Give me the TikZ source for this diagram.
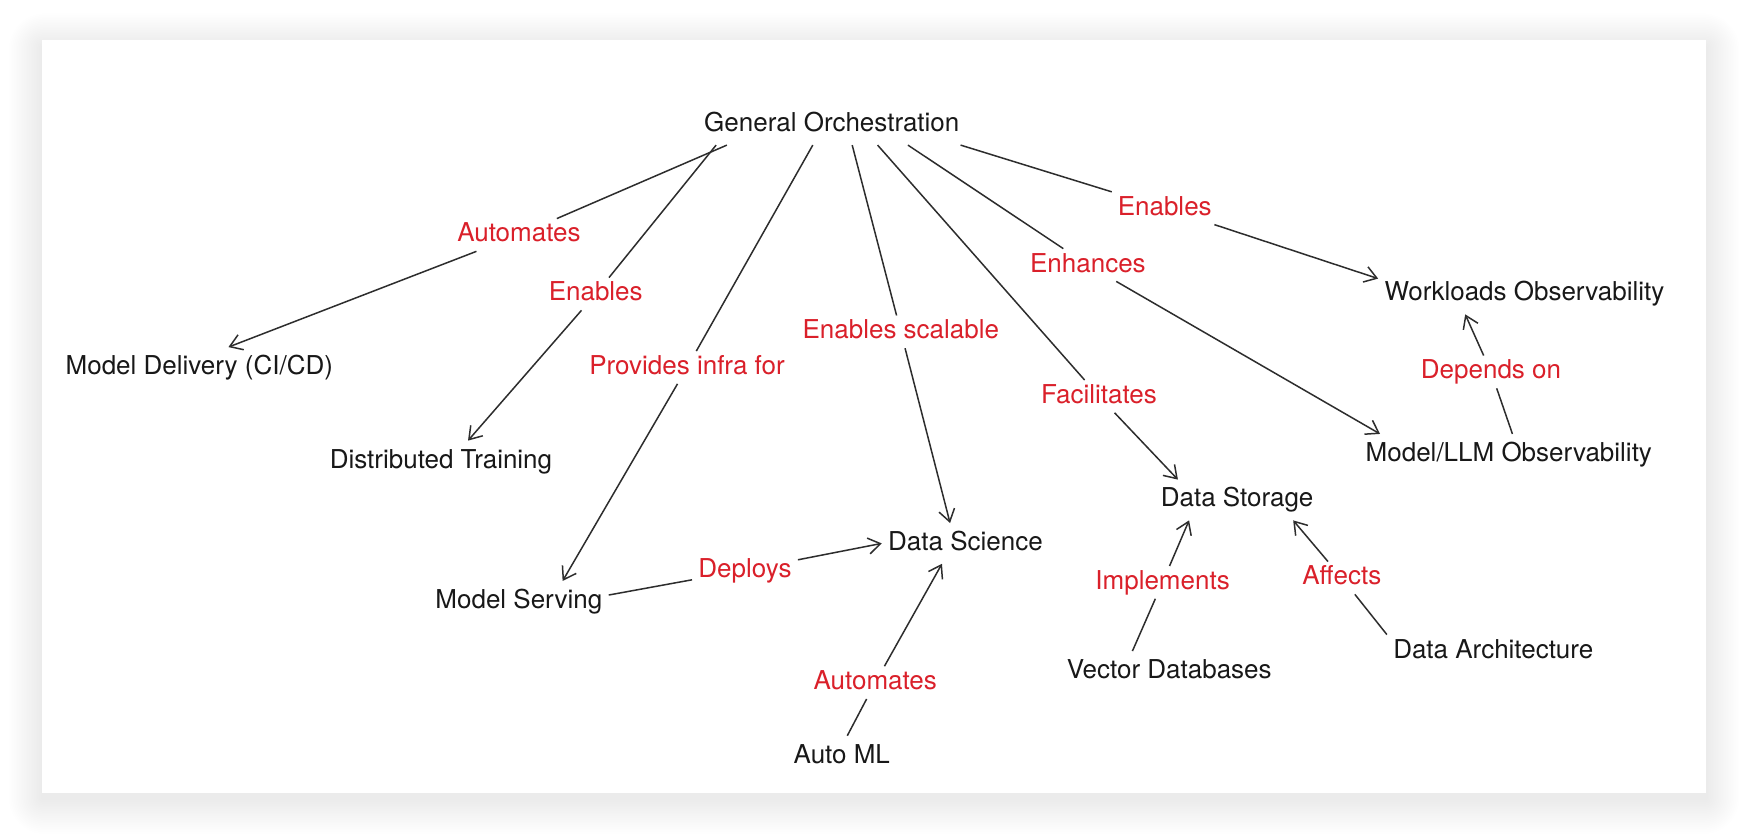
\documentclass[tikz,border=0pt]{standalone}
\usepackage{fontspec}
\setmainfont{TeX Gyre Heros}
\usetikzlibrary{arrows.meta}
\definecolor{relred}{RGB}{218,32,42}
\definecolor{ink}{RGB}{24,24,24}
\definecolor{wire}{RGB}{45,45,45}

\begin{document}
\begin{tikzpicture}[x=0.557pt, y=-0.557pt,
    term/.style={font=\fontsize{13}{15}\selectfont, text=ink, text height=9.5pt, text depth=2.5pt, inner xsep=3pt, inner ysep=4pt},
    rel/.style={font=\fontsize{13}{15}\selectfont, text=relred, text height=9.5pt, text depth=2.5pt, inner xsep=3pt, inner ysep=2pt},
    link/.style={draw=wire, line width=0.75pt},
    arr/.style={link, -{Straight Barb[length=6pt,width=8pt]}}]
    \useasboundingbox (0,0) rectangle (1568,749);
    \fill[white] (0,0) rectangle (1568,749);

    % soft shadow under the card
    \foreach \i in {1,...,20} {
      \pgfmathsetmacro\r{0.9*\i}
      \fill[black, opacity=0.0038, rounded corners=\r pt] (38-1.5*\i,42-1.5*\i) rectangle (1532+1.5*\i,717+1.6*\i);
    }
    \fill[white] (38,36) rectangle (1532,712);

    \node[term] (go)  at (747,112)  {General Orchestration};
    \node[term] (md)  at (179,330)  {Model Delivery (CI/CD)};
    \node[term] (dt)  at (396,414)  {Distributed Training};
    \node[term] (ms)  at (466,540)  {Model Serving};
    \node[term] (ds)  at (867,488)  {Data Science};
    \node[term] (aml) at (756,679)  {Auto ML};
    \node[term] (dst) at (1111,449) {Data Storage};
    \node[term] (vdb) at (1050,603) {Vector Databases};
    \node[term] (da)  at (1341,585) {Data Architecture};
    \node[term] (wo)  at (1369,264) {Workloads Observability};
    \node[term] (mlo) at (1355,408) {Model/LLM Observability};

    % relation labels
    \node[rel] (lAuto)   at (466,211)  {Automates};
    \node[rel] (lEnDT)   at (535,264)  {Enables};
    \node[rel] (lInfra)  at (617,330)  {Provides infra for};
    \node[rel] (lScal)   at (809,298)  {Enables scalable};
    \node[rel] (lFacil)  at (987,356)  {Facilitates};
    \node[rel] (lEnh)    at (977,238)  {Enhances};
    \node[rel] (lEnWO)   at (1046,187) {Enables};
    \node[rel] (lDep)    at (1339,334) {Depends on};
    \node[rel] (lDeploy) at (669,512)  {Deploys};
    \node[rel] (lAutoML) at (786,613)  {Automates};
    \node[rel] (lImpl)   at (1044,523) {Implements};
    \node[rel] (lAff)    at (1205,519) {Affects};

    \draw[link] (go.191) -- (lAuto);   \draw[arr] (lAuto) -- (md.35);
    \draw[link] (go.190) -- (lEnDT);   \draw[arr] (lEnDT) -- (dt.37);
    \draw[link] (go.227) -- (lInfra);  \draw[arr] (lInfra) -- (ms.25);
    \draw[link] (go.-45) -- (lScal);   \draw[arr] (lScal) -- (ds.127);
    \draw[link] (go.-24) -- (lFacil);  \draw[arr] (lFacil) -- (dst.161);
    \draw[link] (go.-15) -- (lEnh);    \draw[arr] (lEnh) -- (mlo.171);
    \draw[link] (go.-9) -- (lEnWO);    \draw[arr] (lEnWO) -- (wo.174);

    \draw[link] (ms.4) -- (lDeploy);     \draw[arr] (lDeploy) -- (ds.west);
    \draw[link] (aml.75) -- (lAutoML);   \draw[arr] (lAutoML) -- (ds.221);
    \draw[link] (vdb.151) -- (lImpl);    \draw[arr] (lImpl) -- (dst.203);
    \draw[link] (da.171) -- (lAff);      \draw[arr] (lAff) -- (dst.-20);
    \draw[link] (mlo.80) -- (lDep);      \draw[arr] (lDep) -- (wo.199);
\end{tikzpicture}
\end{document}
